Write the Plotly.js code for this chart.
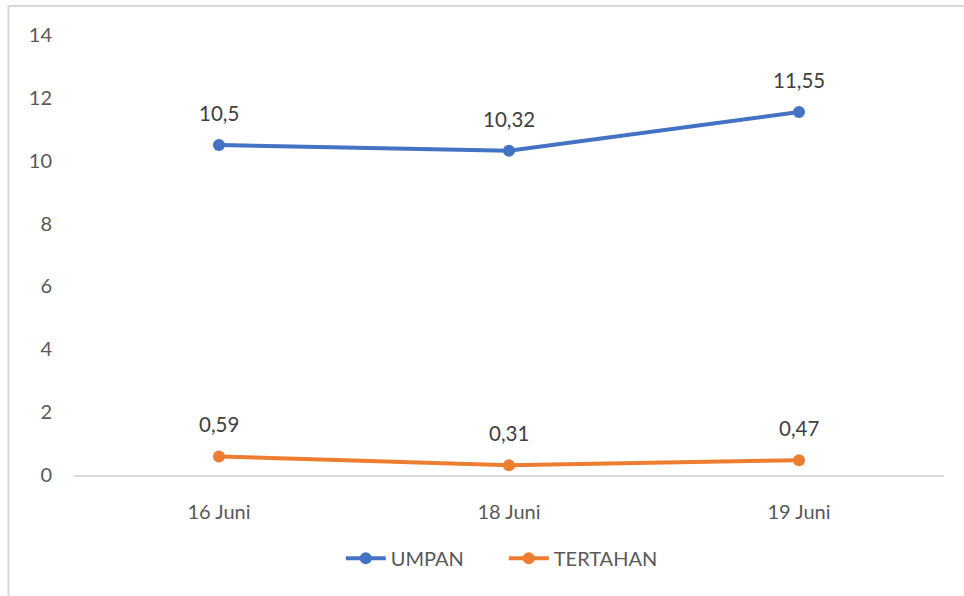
<!DOCTYPE html>
<html>
<head>
<meta charset="utf-8">
<script src="https://cdn.plot.ly/plotly-3.0.1.min.js"></script>
<style>
  html, body { margin: 0; padding: 0; background: #fff; }
  #chart { width: 964px; height: 596px; }
</style>
</head>
<body>
<div id="chart"></div>
<script>
// Tanggal pengamatan
const categories = ['16 Juni', '18 Juni', '19 Juni'];
// Nilai per seri
const umpan = [10.5, 10.32, 11.55];
const tertahan = [0.59, 0.31, 0.47];
const yTicks = [0, 2, 4, 6, 8, 10, 12, 14];

const FONT = 'Lato, "Open Sans", sans-serif';
const BLUE = '#4472C4';
const ORANGE = '#ED7D31';

function fmt(v) { return String(v).replace('.', ','); }

const series = [
  { name: 'UMPAN', values: umpan, color: BLUE },
  { name: 'TERTAHAN', values: tertahan, color: ORANGE }
];

const traces = series.map(s => ({
  type: 'scatter',
  mode: 'lines+markers',
  name: s.name,
  x: categories,
  y: s.values,
  line: { color: s.color, width: 4 },
  marker: { color: s.color, size: 12 },
  cliponaxis: false
}));

// Value labels above each point
const annotations = [];
series.forEach(s => {
  s.values.forEach((v, i) => {
    annotations.push({
      x: categories[i], y: v, xref: 'x', yref: 'y',
      text: fmt(v), showarrow: false,
      yshift: 32,
      font: { family: FONT, size: 20.5, color: '#404040' }
    });
  });
});

const layout = {
  width: 964, height: 596,
  margin: { l: 74, r: 20, t: 35, b: 121 },
  paper_bgcolor: '#fff', plot_bgcolor: '#fff',
  separators: ',.',
  showlegend: true,
  legend: {
    orientation: 'h', x: 0.494, xanchor: 'center', y: -0.189, yanchor: 'middle',
    font: { family: FONT, size: 20, color: '#595959' },
    itemwidth: 40, traceorder: 'normal',
    entrywidth: 108, entrywidthmode: 'pixels'
  },
  xaxis: {
    type: 'category', range: [-0.5, 2.5],
    showgrid: false, zeroline: false,
    showline: true, linecolor: '#D9D9D9', linewidth: 2,
    ticks: '', ticklabelstandoff: 18,
    tickfont: { family: FONT, size: 20, color: '#595959' },
    fixedrange: true
  },
  yaxis: {
    range: [0, 14], tickvals: yTicks, ticktext: yTicks.map(String),
    showgrid: false, zeroline: false, showline: false,
    ticks: '', ticklabelstandoff: 21,
    tickfont: { family: FONT, size: 20, color: '#595959' },
    fixedrange: true
  },
  annotations: annotations,
  shapes: [{
    type: 'rect', xref: 'paper', yref: 'paper',
    x0: -0.0753, x1: 1.03, y0: -0.3, y1: 1.066,
    line: { color: '#D9D9D9', width: 2 }, fillcolor: 'rgba(0,0,0,0)'
  }]
};

Plotly.newPlot('chart', traces, layout, { displayModeBar: false, staticPlot: true });
</script>
</body>
</html>
